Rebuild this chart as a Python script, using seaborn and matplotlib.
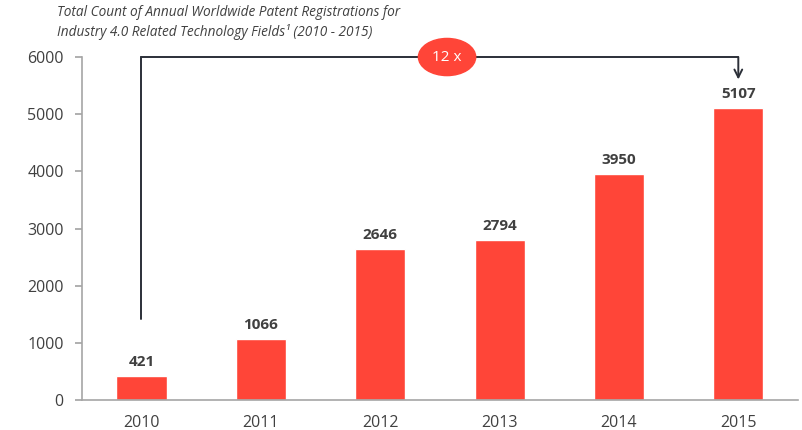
import numpy as np
import matplotlib
matplotlib.use("Agg")
import matplotlib.pyplot as plt
import seaborn as sns
from matplotlib.patches import Ellipse

years = ["2010", "2011", "2012", "2013", "2014", "2015"]
counts = [421, 1066, 2646, 2794, 3950, 5107]
y_ticks = [0, 1000, 2000, 3000, 4000, 5000, 6000]
title = "Total Count of Annual Worldwide Patent Registrations for\nIndustry 4.0 Related Technology Fields\u00b9 (2010 - 2015)"
growth_label = "12 x"

bar_color = "#FF4538"
text_color = "#404040"
axis_color = "#A6A6A6"

sns.set_theme(style="white")
plt.rcParams['font.family'] = ['Open Sans', 'DejaVu Sans']

fig = plt.figure(figsize=(8.02, 4.3), dpi=100)
ax = fig.add_axes([0.102, 0.0698, 0.893, 0.7976])

sns.barplot(x=years, y=counts, color=bar_color, saturation=1, width=0.42, ax=ax)

ax.set_ylim(0, 6000)
ax.set_xlim(-0.5, len(years) - 0.5)
ax.set_yticks(y_ticks)
ax.set_yticklabels([str(v) for v in y_ticks], fontsize=11.5, color=text_color)
ax.set_xticks(range(len(years)))
ax.set_xticklabels(years, fontsize=11.5, color=text_color)
ax.set_xticks(np.arange(-0.5, len(years)), minor=True)
ax.tick_params(axis='x', which='major', length=0, pad=11)
ax.tick_params(axis='x', which='minor', length=5, color=axis_color, direction='out')
ax.tick_params(axis='y', which='major', length=5, color=axis_color, direction='out', pad=8, left=True)
ax.set_xlabel("")
ax.set_ylabel("")

sns.despine(ax=ax, top=True, right=True)
for side in ["left", "bottom"]:
    ax.spines[side].set_color(axis_color)
    ax.spines[side].set_linewidth(1.2)

for i, v in enumerate(counts):
    ax.text(i, v + 120, str(v), ha='center', va='bottom', fontsize=11,
            fontweight='bold', color=text_color)

# bracket from first bar to last bar
first, last = 0, len(counts) - 1
top_y = 6000
line_kw = dict(color="#2b2f38", lw=1.4, clip_on=False)
ax.plot([first, first], [counts[first] + 1000, top_y], **line_kw)
ax.plot([first, last], [top_y, top_y], **line_kw)
ax.annotate("", xy=(last, counts[last] + 500), xytext=(last, top_y),
            arrowprops=dict(arrowstyle="->", color="#2b2f38", lw=1.4,
                            mutation_scale=14, shrinkA=0, shrinkB=0),
            annotation_clip=False)

ex = 2.56
ax.add_patch(Ellipse((ex, top_y), width=0.48, height=650, color=bar_color,
                     clip_on=False, zorder=5))
ax.text(ex, top_y, growth_label, ha='center', va='center', color='white',
        fontsize=11, zorder=6)

fig.text(0.071, 0.988, title, ha='left', va='top', fontsize=9.8,
         style='italic', color=text_color, linespacing=1.3)

fig.savefig("out.png", dpi=100)
